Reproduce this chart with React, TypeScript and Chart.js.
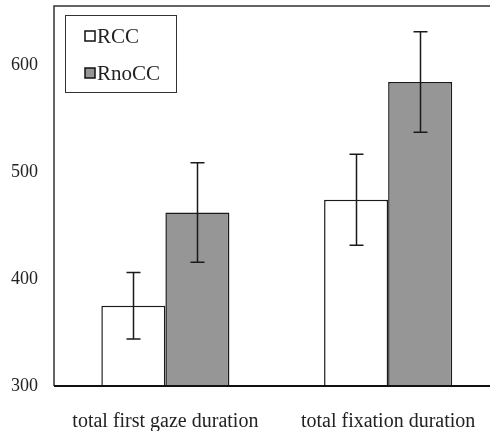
import React, { useEffect, useRef } from "react";
import { Chart, registerables } from "chart.js";

Chart.register(...registerables);

const categories = ["total first gaze duration", "total fixation duration"];
const seriesNames = ["RCC", "RnoCC"];
const rccValues = [375, 474];
const rnoccValues = [462, 584];
const rccErrors = [31, 42.5];
const rnoccErrors = [46.5, 47];
const yTickValues = [300, 400, 500, 600];
const yMin = 300;
const yMax = 655;

const FONT = "'Liberation Serif', 'Times New Roman', serif";
const TEXT = "#222";
const LINE = "#1a1a1a";

const errors = [rccErrors, rnoccErrors];
const fills = ["#ffffff", "#969696"];

const customPlugin = {
  id: "customDecor",
  afterDatasetsDraw(chart: any) {
    const ctx = chart.ctx;
    const y = chart.scales.y;
    ctx.save();
    ctx.strokeStyle = LINE;
    ctx.lineWidth = 1.5;
    chart.data.datasets.forEach((ds: any, di: number) => {
      const meta = chart.getDatasetMeta(di);
      meta.data.forEach((bar: any, i: number) => {
        const v = ds.data[i];
        const e = errors[di][i];
        const x = Math.round(bar.x) + 0.5;
        const top = y.getPixelForValue(v + e);
        const bot = y.getPixelForValue(v - e);
        const cap = 7;
        ctx.beginPath();
        ctx.moveTo(x, top);
        ctx.lineTo(x, bot);
        ctx.moveTo(x - cap, top);
        ctx.lineTo(x + cap, top);
        ctx.moveTo(x - cap, bot);
        ctx.lineTo(x + cap, bot);
        ctx.stroke();
      });
    });
    ctx.restore();
  },
  afterDraw(chart: any) {
    const ctx = chart.ctx;
    const a = chart.chartArea;
    ctx.save();
    ctx.strokeStyle = "#333";
    ctx.lineWidth = 1.5;
    ctx.beginPath();
    ctx.moveTo(a.left, a.bottom);
    ctx.lineTo(a.left, a.top);
    ctx.lineTo(chart.width, a.top);
    ctx.stroke();
    ctx.strokeStyle = "#111";
    ctx.lineWidth = 2;
    ctx.beginPath();
    ctx.moveTo(a.left, a.bottom);
    ctx.lineTo(chart.width, a.bottom);
    ctx.stroke();

    // legend
    const lx = 65.5, ly = 15.5, lw = 111, lh = 77;
    ctx.fillStyle = "#fff";
    ctx.fillRect(lx, ly, lw, lh);
    ctx.strokeStyle = "#333";
    ctx.lineWidth = 1;
    ctx.strokeRect(lx, ly, lw, lh);
    ctx.font = "21px " + FONT;
    ctx.textBaseline = "middle";
    ctx.textAlign = "left";
    const rows = [36, 73];
    seriesNames.forEach((name, i) => {
      const cy = rows[i];
      ctx.fillStyle = fills[i];
      ctx.fillRect(85, cy - 5, 10, 10);
      ctx.strokeStyle = "#111";
      ctx.lineWidth = 1.5;
      ctx.strokeRect(85, cy - 5, 10, 10);
      ctx.fillStyle = TEXT;
      ctx.fillText(name, 97, cy + 1);
    });
    ctx.restore();
  },
};

export default function App() {
  const ref = useRef<HTMLCanvasElement | null>(null);
  useEffect(() => {
    if (!ref.current) return;
    const chart = new Chart(ref.current, {
      type: "bar",
      data: {
        labels: categories,
        datasets: [
          {
            label: seriesNames[0],
            data: rccValues,
            backgroundColor: fills[0],
            borderColor: LINE,
            borderWidth: 1.5,
            categoryPercentage: 0.575,
            barPercentage: 1.0,
          },
          {
            label: seriesNames[1],
            data: rnoccValues,
            backgroundColor: fills[1],
            borderColor: LINE,
            borderWidth: 1.5,
            categoryPercentage: 0.575,
            barPercentage: 1.0,
          },
        ],
      },
      options: {
        responsive: false,
        animation: false,
        devicePixelRatio: 1,
        layout: { padding: { top: 6, right: 10.5, left: 0, bottom: 0 } },
        plugins: {
          legend: { display: false },
          tooltip: { enabled: false },
        },
        scales: {
          x: {
            grid: { display: false, drawTicks: false },
            border: { display: false },
            ticks: {
              color: TEXT,
              font: { family: FONT, size: 20 },
              padding: 24,
              maxRotation: 0,
              autoSkip: false,
            },
            afterFit(scale: any) {
              scale.height = 45;
              scale.paddingLeft = 0;
              scale.paddingRight = 0;
            },
          },
          y: {
            min: yMin,
            max: yMax,
            grid: { display: false, drawTicks: false },
            border: { display: false },
            ticks: {
              stepSize: 100,
              color: TEXT,
              font: { family: FONT, size: 18 },
              padding: 16,
            },
            afterBuildTicks(scale: any) {
              scale.ticks = yTickValues.map((v) => ({ value: v }));
            },
            afterFit(scale: any) {
              scale.width = 54;
              scale.paddingTop = 0;
              scale.paddingBottom = 0;
            },
          },
        },
      },
      plugins: [customPlugin],
    });
    return () => chart.destroy();
  }, []);
  return (
    <div
      style={{
        position: "fixed",
        left: 0,
        top: 0,
        width: 490,
        height: 431,
        overflow: "hidden",
        background: "#fff",
      }}
    >
      <canvas ref={ref} width={510} height={431} style={{ display: "block" }} />
    </div>
  );
}
